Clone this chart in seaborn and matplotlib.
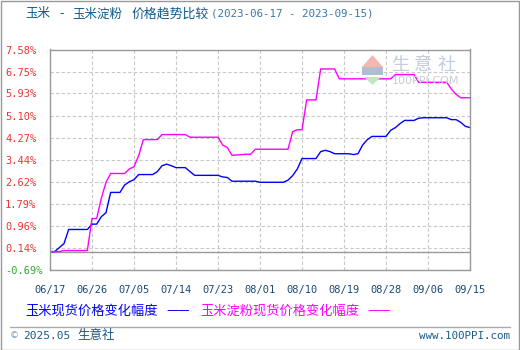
import matplotlib
matplotlib.use("Agg")
import matplotlib.pyplot as plt
import seaborn as sns
import pandas as pd
import numpy as np
from matplotlib.patches import Polygon, Rectangle

# ---------------- data ----------------
start_date = "2023-06-17"
tick_labels = ["06/17", "06/26", "07/05", "07/14", "07/23", "08/01",
               "08/10", "08/19", "08/28", "09/06", "09/15"]
ytick_values = [-0.69, 0.14, 0.96, 1.79, 2.62, 3.44, 4.27, 5.10, 5.93, 6.75, 7.58]

corn_days = [0, 1, 2, 3, 4, 8, 9, 10, 11, 12, 13, 15, 16, 17, 18, 19, 22, 23, 24, 25,
             26, 27, 29, 30, 31, 36, 37, 38, 39, 44, 45, 50, 51, 52, 53, 54, 57, 58,
             59, 60, 61, 64, 65, 66, 67, 68, 69, 72, 73, 74, 75, 76, 78, 79, 80, 85,
             86, 87, 88, 89, 90]
corn_vals = [0.00, 0.00, 0.15, 0.30, 0.83, 0.83, 1.03, 1.03, 1.31, 1.46, 2.22, 2.22,
             2.50, 2.62, 2.70, 2.89, 2.89, 3.00, 3.22, 3.28, 3.22, 3.15, 3.15, 3.00,
             2.86, 2.86, 2.80, 2.78, 2.64, 2.64, 2.60, 2.60, 2.68, 2.85, 3.10, 3.49,
             3.49, 3.75, 3.80, 3.75, 3.67, 3.67, 3.64, 3.67, 4.00, 4.20, 4.32, 4.32,
             4.55, 4.65, 4.80, 4.92, 4.92, 5.00, 5.02, 5.02, 4.95, 4.95, 4.85, 4.70,
             4.65]

starch_days = [0, 2, 3, 8, 9, 10, 11, 12, 13, 16, 17, 18, 19, 20, 23, 24, 29, 30, 36,
               37, 38, 39, 42, 43, 44, 51, 52, 53, 54, 55, 57, 58, 61, 62, 73, 74, 78,
               79, 85, 86, 87, 88, 90]
starch_vals = [0.00, 0.00, 0.04, 0.04, 1.24, 1.24, 2.00, 2.60, 2.93, 2.93, 3.10, 3.18,
               3.60, 4.20, 4.20, 4.39, 4.39, 4.29, 4.29, 4.00, 3.90, 3.61, 3.65, 3.65,
               3.84, 3.84, 4.50, 4.57, 4.57, 5.69, 5.69, 6.85, 6.85, 6.48, 6.48, 6.64,
               6.64, 6.35, 6.35, 6.10, 5.90, 5.77, 5.77]

corn_name = "玉米现货价格变化幅度"
starch_name = "玉米淀粉现货价格变化幅度"

# ---------------- build frame ----------------
t0 = pd.Timestamp(start_date)
df = pd.concat([
    pd.DataFrame({"date": t0 + pd.to_timedelta(corn_days, unit="D"), "val": corn_vals, "series": corn_name}),
    pd.DataFrame({"date": t0 + pd.to_timedelta(starch_days, unit="D"), "val": starch_vals, "series": starch_name}),
])
df["day"] = (df["date"] - t0).dt.days

sns.set_style("white")
plt.rcParams["font.family"] = ["Noto Sans CJK SC", "DejaVu Sans"]

W, H = 520, 350
def fx(px):
    return px / W
def fy(py):
    return 1 - py / H

fig = plt.figure(figsize=(W / 100, H / 100), dpi=100)
fig.patch.set_facecolor("white")
ax = fig.add_axes([50 / W, (H - 270) / H, 420 / W, (270 - 49.5) / H])

sns.lineplot(data=df, x="day", y="val", hue="series",
             palette={corn_name: "#0000ff", starch_name: "#ff00ff"},
             linewidth=1.0, legend=False, ax=ax, estimator=None, sort=True)

ax.set_xlim(0, 90)
ax.set_ylim(-0.69, 7.58)
ax.set_xticks(np.arange(0, 91, 9))
ax.set_xticklabels(tick_labels, color="#1a4a7a", fontsize=7.5, family="DejaVu Sans Mono")
ax.set_yticks(ytick_values)
ax.set_yticklabels([f"{v:.2f}%" for v in ytick_values], fontsize=7.5, family="DejaVu Sans Mono",
                   ha="left")
for lbl, v in zip(ax.get_yticklabels(), ytick_values):
    lbl.set_color("#33aa33" if v < 0 else "#ee3333")
ax.tick_params(axis="y", length=0, pad=45 * 0.72)
ax.tick_params(axis="x", length=0, pad=11)
ax.set_xlabel("")
ax.set_ylabel("")
ax.grid(True, color="#c8c8c8", linestyle=(0, (3, 2)), linewidth=0.8)
ax.axhline(0, color="#999999", linewidth=1.0, zorder=1)
for s in ax.spines.values():
    s.set_color("#999999")
    s.set_linewidth(1.0)

# watermark logo
tri_up = Polygon([[fx(362), fy(67)], [fx(383), fy(67)], [fx(372.5), fy(55)]],
                 closed=True, transform=fig.transFigure, facecolor="#f4b8b0", edgecolor="none", zorder=0)
tri_dn = Polygon([[fx(364), fy(77)], [fx(381), fy(77)], [fx(372.5), fy(85)]],
                 closed=True, transform=fig.transFigure, facecolor="#c0e8c0", edgecolor="none", zorder=0)
box = Rectangle((fx(362), fy(75)), 21 / W, 8 / H, transform=fig.transFigure,
                facecolor="#b4bcd0", edgecolor="none", zorder=0)
for p in (tri_up, tri_dn, box):
    fig.patches.append(p)
for ch, cx in zip(["生", "意", "社"], [400, 423, 446]):
    fig.text(fx(cx), fy(65), ch, fontsize=13, color="#c4cae0", va="center", ha="center")
fig.text(fx(392), fy(81), "100PPI.COM", fontsize=8, color="#cccccc", va="center", ha="left",
         family="DejaVu Sans")

# title
tcol = "#0d5a8a"
fig.text(fx(25), fy(14), "玉米", fontsize=9, color=tcol, va="center", ha="left")
fig.text(fx(62), fy(14), "-", fontsize=9, color=tcol, va="center", ha="center", family="DejaVu Sans")
fig.text(fx(72), fy(14), "玉米淀粉", fontsize=9, color=tcol, va="center", ha="left")
fig.text(fx(132), fy(14), "价格趋势比较", fontsize=9.3, color=tcol, va="center", ha="left")
fig.text(fx(211), fy(14), "(2023-06-17 - 2023-09-15)", fontsize=7.8, color="#3a78a8",
         va="center", ha="left", family="DejaVu Sans Mono")

# legend
fig.text(fx(25), fy(311), corn_name, fontsize=9.5, color="#0000ff", va="center", ha="left")
fig.text(fx(166), fy(311), "——", fontsize=9.5, color="#0000ff", va="center", ha="left")
fig.text(fx(200), fy(311), starch_name, fontsize=9.5, color="#ff00ff", va="center", ha="left")
fig.text(fx(367), fy(311), "——", fontsize=9.5, color="#ff00ff", va="center", ha="left")

# footer
fig.add_artist(plt.Line2D([fx(10), fx(510)], [fy(326.5), fy(326.5)], color="#aaaaaa",
                          linewidth=1.0, transform=fig.transFigure))
fig.text(fx(10), fy(336), "©", fontsize=6.5, color="#7a9ab8", va="center", ha="left",
         family="DejaVu Sans")
fig.text(fx(23), fy(336), "2025.05", fontsize=8, color="#1a5a8a", va="center", ha="left",
         family="DejaVu Sans Mono")
fig.text(fx(77), fy(336), "生意社", fontsize=9, color="#1a5a8a", va="center", ha="left")
fig.text(fx(510), fy(336), "www.100PPI.com", fontsize=7.8, color="#1a5a8a", va="center", ha="right",
         family="DejaVu Sans Mono")

# outer frame
fig.add_artist(Rectangle((0.5 / W, 0.5 / H), (W - 1.5) / W, (H - 1.5) / H, transform=fig.transFigure,
                         fill=False, edgecolor="#999999", linewidth=1.0))

fig.savefig("out.png", dpi=100)
